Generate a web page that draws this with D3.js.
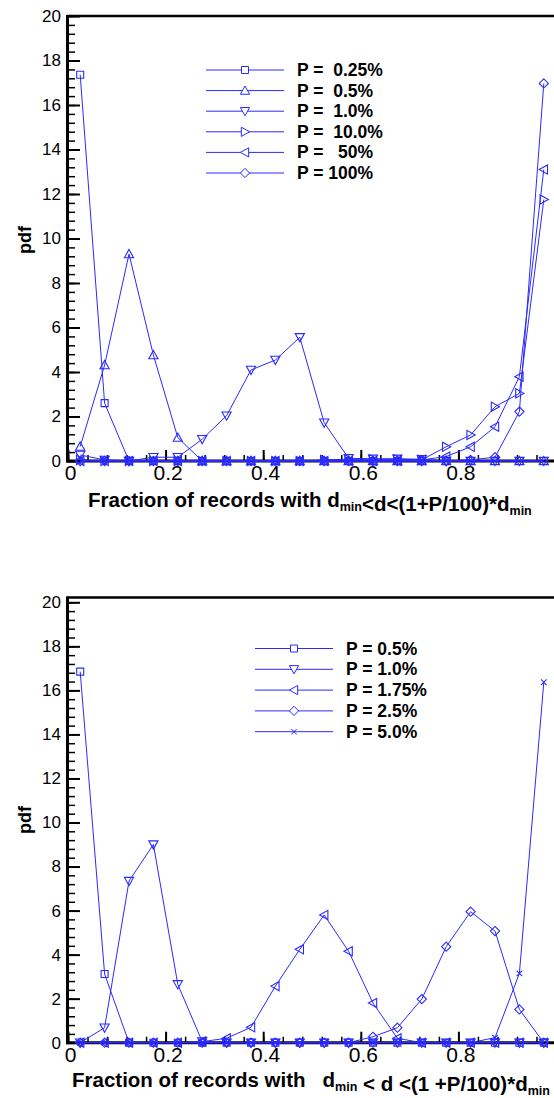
<!DOCTYPE html>
<html>
<head>
<meta charset="utf-8">
<script src="https://cdn.jsdelivr.net/npm/d3@7"></script>
<style>
  body { margin: 0; background: #fff; }
  svg { display: block; font-family: "Liberation Sans", Arial, sans-serif; }
  text { white-space: pre; }
</style>
</head>
<body>
<svg id="chart" width="554" height="1098"></svg>
<script>
// bin centres on the x axis (20 bins)
var xBins = [0.025, 0.075, 0.125, 0.175, 0.225, 0.275, 0.325, 0.375, 0.425, 0.475,
             0.525, 0.575, 0.625, 0.675, 0.725, 0.775, 0.825, 0.875, 0.925, 0.975];

var xTicks = [0, 0.2, 0.4, 0.6, 0.8, 1];
var yTicks = [0, 2, 4, 6, 8, 10, 12, 14, 16, 18, 20];

// upper panel
var topLabels = ["P =  0.25%", "P =  0.5%", "P =  1.0%", "P =  10.0%", "P =   50%", "P = 100%"];
var topP025 = [17.36, 2.6, 0, 0, 0, 0, 0, 0, 0, 0, 0, 0, 0, 0, 0, 0, 0, 0, 0, 0];
var topP05  = [0.65, 4.31, 9.3, 4.76, 1.05, 0, 0, 0, 0, 0, 0, 0, 0, 0, 0, 0, 0, 0, 0, 0];
var topP1   = [0.27, 0.05, 0, 0.17, 0.17, 0.98, 2.04, 4.09, 4.54, 5.56, 1.72, 0.12, 0.1, 0.1, 0.08, 0, 0, 0, 0, 0];
var topP10  = [0.05, 0, 0, 0, 0, 0, 0, 0, 0, 0, 0.05, 0.08, 0.08, 0.08, 0.05, 0.64, 1.17, 2.44, 3.04, 11.75];
var topP50  = [0, 0, 0, 0, 0, 0, 0, 0, 0, 0, 0, 0, 0, 0, 0.05, 0.2, 0.64, 1.54, 3.79, 13.1];
var topP100 = [0, 0, 0, 0, 0, 0, 0, 0, 0, 0, 0, 0, 0, 0, 0, 0, 0.05, 0.17, 2.22, 16.97];

// lower panel
var botLabels = ["P = 0.5%", "P = 1.0%", "P = 1.75%", "P = 2.5%", "P = 5.0%"];
var botP05  = [16.85, 3.12, 0, 0, 0, 0, 0, 0, 0, 0, 0, 0, 0, 0, 0, 0, 0, 0, 0, 0];
var botP1   = [0, 0.68, 7.34, 9.0, 2.65, 0.05, 0, 0, 0, 0, 0, 0, 0, 0, 0, 0, 0, 0, 0, 0];
var botP175 = [0, 0, 0, 0, 0, 0.05, 0.2, 0.7, 2.57, 4.24, 5.8, 4.15, 1.8, 0.2, 0, 0, 0, 0, 0, 0];
var botP25  = [0, 0, 0, 0, 0, 0, 0, 0, 0, 0, 0, 0, 0.27, 0.68, 1.98, 4.36, 5.95, 5.07, 1.51, 0];
var botP5   = [0, 0, 0, 0, 0, 0, 0, 0, 0, 0, 0, 0, 0, 0, 0, 0, 0, 0.23, 3.15, 16.37];

var blue = "#2a2aff";

// hollow tecplot style symbols, s = half size
function markerPath(shape, s) {
    var t = s * 0.8;
    switch (shape) {
        case "square":  return "M" + (-s) + "," + (-s) + "h" + 2 * s + "v" + 2 * s + "h" + (-2 * s) + "Z";
        case "up":      return "M0," + (-s) + "L" + s + "," + t + "L" + (-s) + "," + t + "Z";
        case "down":    return "M0," + s + "L" + s + "," + (-t) + "L" + (-s) + "," + (-t) + "Z";
        case "right":   return "M" + s + ",0L" + (-t) + "," + (-s) + "L" + (-t) + "," + s + "Z";
        case "left":    return "M" + (-s) + ",0L" + t + "," + (-s) + "L" + t + "," + s + "Z";
        case "diamond": return "M0," + (-s) + "L" + s + ",0L0," + s + "L" + (-s) + ",0Z";
        case "cross":   return "M" + (-s) + "," + (-s) + "L" + s + "," + s + "M" + (-s) + "," + s + "L" + s + "," + (-s);
    }
}
var markerSize = {square: 3.5, up: 4.6, down: 4.6, right: 4.6, left: 4.6, diamond: 4.6, cross: 2.8};

var svg = d3.select("#chart");

function drawPanel(cfg) {
    var g = svg.append("g");
    var x = d3.scaleLinear().domain([0, 1]).range([68, 556]);
    var y = d3.scaleLinear().domain([0, 20]).range([cfg.y0, cfg.y20]);

    // minor ticks first so the major ones sit on top
    var yMinor = d3.range(0, 20.01, 0.4);
    var xMinor = d3.range(0, 1.001, 0.04);

    g.append("g").attr("transform", "translate(68,0)")
        .call(d3.axisLeft(y).tickValues(yMinor).tickSize(-7).tickFormat(""))
        .call(function (a) { a.select(".domain").remove(); a.selectAll("line").attr("stroke-width", 1.5); });
    g.append("g").attr("transform", "translate(0," + cfg.y0 + ")")
        .call(d3.axisBottom(x).tickValues(xMinor).tickSize(-6).tickFormat(""))
        .call(function (a) { a.select(".domain").remove(); a.selectAll("line").attr("stroke-width", 1.5); });

    g.append("g").attr("transform", "translate(68,0)")
        .call(d3.axisLeft(y).tickValues(yTicks).tickSize(-12).tickPadding(7).tickFormat(d3.format("d")))
        .call(function (a) {
            a.select(".domain").remove();
            a.selectAll("line").attr("stroke-width", 2);
            a.selectAll("text").attr("font-size", 17).attr("fill", "#000").attr("font-family", null);
        });
    g.append("g").attr("transform", "translate(0," + cfg.y0 + ")")
        .call(d3.axisBottom(x).tickValues(xTicks).tickSize(-11).tickPadding(4)
            .tickFormat(function (d) { return d === 0 || d === 1 ? String(d) : d3.format(".1f")(d); }))
        .call(function (a) {
            a.select(".domain").remove();
            a.selectAll("line").attr("stroke-width", 2);
            a.selectAll("text").attr("font-size", 21).attr("fill", "#000").attr("font-family", null)
                .attr("dx", 2);
        });

    // frame: thick left and bottom axes, top border
    g.append("line").attr("x1", 67).attr("x2", 554).attr("y1", cfg.yTop).attr("y2", cfg.yTop)
        .attr("stroke", "#000").attr("stroke-width", 2.5);
    g.append("line").attr("x1", 67.5).attr("x2", 67.5).attr("y1", cfg.yTop - 1).attr("y2", cfg.y0 + 1.5)
        .attr("stroke", "#000").attr("stroke-width", 3);
    g.append("line").attr("x1", 66).attr("x2", 554).attr("y1", cfg.y0).attr("y2", cfg.y0)
        .attr("stroke", "#000").attr("stroke-width", 3);

    var line = d3.line()
        .x(function (d, i) { return x(xBins[i]); })
        .y(function (d) { return y(d); });

    cfg.series.forEach(function (s, k) {
        g.append("path").datum(s.values)
            .attr("d", line)
            .attr("fill", "none").attr("stroke", blue).attr("stroke-width", 1);
        g.selectAll(".m" + k).data(s.values).enter().append("path")
            .attr("class", "m" + k)
            .attr("transform", function (d, i) { return "translate(" + x(xBins[i]) + "," + y(d) + ")"; })
            .attr("d", markerPath(s.shape, markerSize[s.shape]))
            .attr("fill", "none").attr("stroke", blue).attr("stroke-width", 1.1);

        // legend entry
        var ly = cfg.legY + k * cfg.legStep;
        var lg = g.append("g").attr("transform", "translate(" + cfg.legX + "," + ly + ")");
        lg.append("line").attr("x1", 0).attr("x2", 78).attr("stroke", blue).attr("stroke-width", 1);
        lg.append("path").attr("transform", "translate(39,0)")
            .attr("d", markerPath(s.shape, markerSize[s.shape]))
            .attr("fill", "#fff").attr("stroke", blue).attr("stroke-width", 1);
        lg.append("text").attr("x", 91).attr("y", 6)
            .attr("font-size", 17.5).attr("font-weight", "bold").text(s.label);
    });

    // axis titles
    g.append("text")
        .attr("transform", "translate(31," + cfg.pdfY + ") rotate(-90)")
        .attr("text-anchor", "middle").attr("font-size", 18).attr("font-weight", "bold")
        .text("pdf");

    var t = g.append("text").attr("x", cfg.titleX).attr("y", cfg.titleY)
        .attr("font-size", 20.5).attr("font-weight", "bold");
    cfg.title.forEach(function (p) {
        if (p.sub) {
            t.append("tspan").attr("font-size", 12.5).attr("dy", 4).text(p.sub);
            t.append("tspan").attr("dy", -4).text("");
        } else {
            t.append("tspan").text(p.txt);
        }
    });
}

drawPanel({
    yTop: 16, y20: 16, y0: 461,
    legX: 206, legY: 70, legStep: 20.6,
    pdfY: 240, titleX: 88, titleY: 507,
    title: [{txt: "Fraction of records with d"}, {sub: "min"}, {txt: "<d<(1+P/100)*d"}, {sub: "min"}],
    series: [
        {label: topLabels[0], shape: "square",  values: topP025},
        {label: topLabels[1], shape: "up",      values: topP05},
        {label: topLabels[2], shape: "down",    values: topP1},
        {label: topLabels[3], shape: "right",   values: topP10},
        {label: topLabels[4], shape: "left",    values: topP50},
        {label: topLabels[5], shape: "diamond", values: topP100}
    ]
});

drawPanel({
    yTop: 597.5, y20: 602.3, y0: 1042.7,
    legX: 255, legY: 648.5, legStep: 20.8,
    pdfY: 820, titleX: 72, titleY: 1087,
    title: [{txt: "Fraction of records with   d"}, {sub: "min"}, {txt: " < d <(1 +P/100)*d"}, {sub: "min"}],
    series: [
        {label: botLabels[0], shape: "square",  values: botP05},
        {label: botLabels[1], shape: "down",    values: botP1},
        {label: botLabels[2], shape: "left",    values: botP175},
        {label: botLabels[3], shape: "diamond", values: botP25},
        {label: botLabels[4], shape: "cross",   values: botP5}
    ]
});
</script>
</body>
</html>
